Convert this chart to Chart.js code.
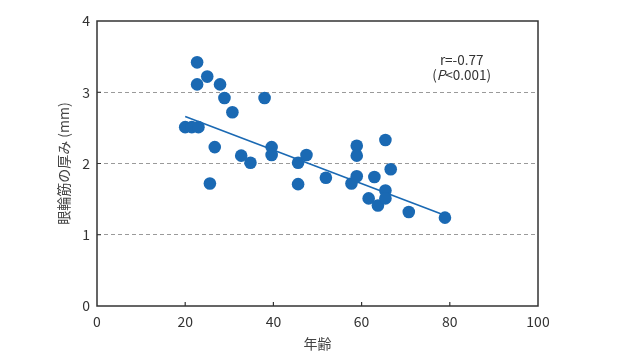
<!DOCTYPE html>
<html>
<head>
<meta charset="utf-8">
<script src="https://cdn.jsdelivr.net/npm/chart.js@4.4.1/dist/chart.umd.min.js"></script>
<style>
  html, body { margin: 0; padding: 0; background: #fff; }
  #wrap { width: 640px; height: 358px; }
</style>
</head>
<body>
<div id="wrap"><canvas id="scatterChart" width="640" height="358"></canvas></div>
<script>
// 年齢 vs 眼輪筋の厚み
const ages = [20.0, 21.5, 23.0, 22.7, 22.7, 25.0, 25.6, 26.7, 27.9, 28.9, 30.7, 32.7, 34.8, 38.0, 39.6, 39.6,
    45.6, 45.6, 47.5, 51.9, 57.7, 58.9, 58.9, 58.9, 61.6, 62.9, 63.7, 65.4, 65.4, 65.4, 66.6, 70.7, 78.9];
const thickness = [2.51, 2.51, 2.51, 3.42, 3.11, 3.22, 1.72, 2.23, 3.11, 2.92, 2.72, 2.11, 2.01, 2.92, 2.23, 2.12,
    2.01, 1.71, 2.12, 1.80, 1.72, 2.25, 2.11, 1.82, 1.51, 1.81, 1.41, 2.33, 1.62, 1.51, 1.92, 1.32, 1.24];

// 回帰直線の両端
const trendAges = [20, 79];
const trendThickness = [2.66, 1.27];

const xTicks = [0, 20, 40, 60, 80, 100];
const yTicks = [0, 1, 2, 3, 4];

const statLines = ['r=-0.77', '(P<0.001)'];
const statPos = { x: 82.7, y: [3.45, 3.24] };

const fontFamily = '"Noto Sans CJK JP", "Noto Sans", sans-serif';
const blue = '#1a69b3';

const points = ages.map((a, i) => ({ x: a, y: thickness[i] }));
const trendLine = trendAges.map((a, i) => ({ x: a, y: trendThickness[i] }));

// 枠・内向き目盛り・注記
const framePlugin = {
    id: 'frame',
    beforeDatasetsDraw(chart) {
        const { ctx, chartArea: a, scales: { x, y } } = chart;
        ctx.save();
        ctx.strokeStyle = '#333';
        ctx.lineWidth = 1.5;
        ctx.strokeRect(a.left, a.top, a.right - a.left, a.bottom - a.top);
        ctx.lineWidth = 1.2;
        ctx.beginPath();
        xTicks.slice(1, -1).forEach(v => {
            const px = x.getPixelForValue(v);
            ctx.moveTo(px, a.bottom);
            ctx.lineTo(px, a.bottom - 4);
        });
        yTicks.slice(1, -1).forEach(v => {
            const py = y.getPixelForValue(v);
            ctx.moveTo(a.left, py);
            ctx.lineTo(a.left + 4, py);
        });
        ctx.stroke();
        ctx.restore();
    },
    afterDraw(chart) {
        const { ctx, scales: { x, y } } = chart;
        ctx.save();
        ctx.fillStyle = '#333';
        ctx.font = '13.5px ' + fontFamily;
        ctx.textBaseline = 'middle';
        ctx.textAlign = 'center';
        const cx = x.getPixelForValue(statPos.x);
        ctx.fillText(statLines[0], cx, y.getPixelForValue(statPos.y[0]));
        // (P<0.001) の P は斜体
        const py = y.getPixelForValue(statPos.y[1]);
        const parts = [['(', false], ['P', true], ['<0.001)', false]];
        let total = 0;
        parts.forEach(([t, it]) => {
            ctx.font = (it ? 'italic ' : '') + '13.5px ' + fontFamily;
            total += ctx.measureText(t).width;
        });
        let px = cx - total / 2;
        ctx.textAlign = 'left';
        parts.forEach(([t, it]) => {
            ctx.font = (it ? 'italic ' : '') + '13.5px ' + fontFamily;
            ctx.fillText(t, px, py);
            px += ctx.measureText(t).width;
        });
        ctx.restore();
    }
};

const ctx = document.getElementById('scatterChart').getContext('2d');
const chart = new Chart(ctx, {
    type: 'scatter',
    data: {
        datasets: [
            {
                label: '眼輪筋の厚み',
                data: points,
                backgroundColor: blue,
                borderColor: blue,
                borderWidth: 0,
                pointRadius: 6.3,
                order: 1
            },
            {
                label: '回帰直線',
                data: trendLine,
                type: 'line',
                showLine: true,
                fill: false,
                borderColor: blue,
                borderWidth: 1.6,
                pointRadius: 0,
                order: 2
            }
        ]
    },
    options: {
        responsive: false,
        animation: false,
        layout: { padding: { left: 0, right: 102, top: 21, bottom: 0 } },
        plugins: {
            legend: { display: false },
            tooltip: { enabled: false }
        },
        scales: {
            x: {
                type: 'linear',
                min: 0,
                max: 100,
                afterBuildTicks: s => { s.ticks = xTicks.map(v => ({ value: v })); },
                afterFit: s => { s.height = 52; },
                grid: { display: false, drawTicks: false },
                border: { display: false },
                ticks: {
                    padding: 7,
                    color: '#333',
                    font: { family: fontFamily, size: 14 }
                },
                title: {
                    display: true,
                    text: '年齢',
                    color: '#444',
                    padding: { top: 0, bottom: 6 },
                    font: { family: fontFamily, size: 14 }
                }
            },
            y: {
                min: 0,
                max: 4,
                afterBuildTicks: s => { s.ticks = yTicks.map(v => ({ value: v })); },
                afterFit: s => { s.width = 97; },
                grid: {
                    drawTicks: false,
                    color: c => (c.tick && c.tick.value > 0 && c.tick.value < 4) ? '#9a9a9a' : 'rgba(0,0,0,0)',
                    lineWidth: 1
                },
                border: { display: false, dash: [4, 3] },
                ticks: {
                    padding: 7,
                    color: '#333',
                    font: { family: fontFamily, size: 14 }
                },
                title: {
                    display: true,
                    text: '眼輪筋の厚み (mm)',
                    color: '#444',
                    padding: { top: 55, bottom: 0 },
                    font: { family: fontFamily, size: 14 }
                }
            }
        }
    },
    plugins: [framePlugin]
});
</script>
</body>
</html>
